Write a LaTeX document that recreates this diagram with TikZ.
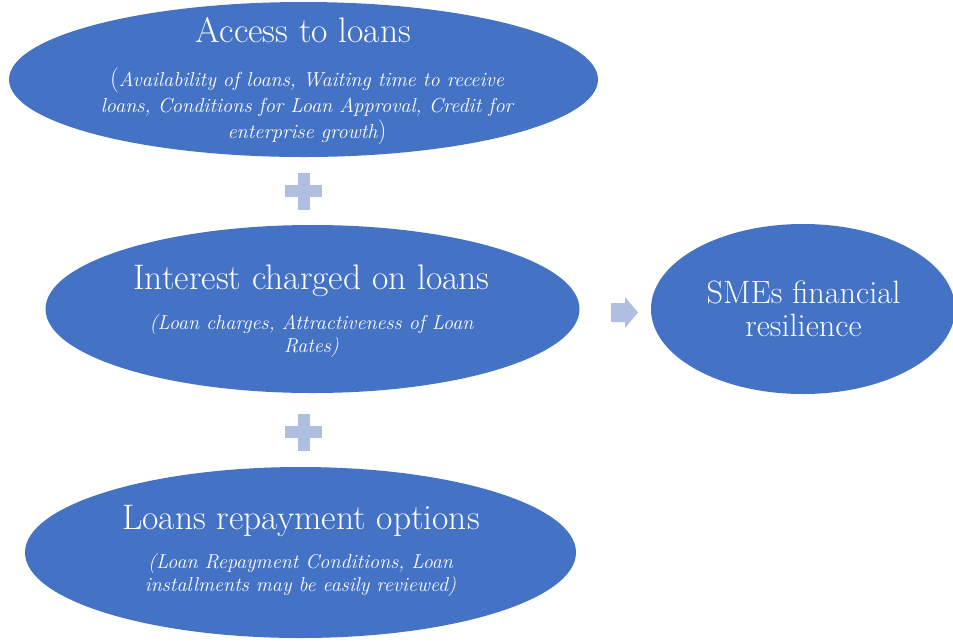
\documentclass[tikz,border=0pt]{standalone}
\usetikzlibrary{shapes.geometric}
\definecolor{ovalblue}{RGB}{68,114,196}
\definecolor{lightsym}{RGB}{176,190,226}
\begin{document}
\begin{tikzpicture}[x=1pt,y=-1pt,
  oval/.style={ellipse, fill=ovalblue, draw=none, inner sep=0pt},
  ttl/.style={text=white, align=center, inner sep=0pt, font=\fontsize{35.5}{33}\selectfont},
  ttlS/.style={text=white, align=center, inner sep=0pt, font=\fontsize{32.3}{33}\selectfont},
  subA/.style={text=white, align=center, inner sep=0pt, font=\itshape\fontsize{20.3}{26}\selectfont},
  subB/.style={text=white, align=center, inner sep=0pt, font=\itshape\fontsize{20.1}{23}\selectfont},
  sym/.style={fill=lightsym, draw=none}]
\useasboundingbox (0,0) rectangle (953,641);
\node[oval, minimum width=589pt, minimum height=155pt] (access) at (303.5,79.5) {};
\node[oval, minimum width=534pt, minimum height=168pt] (interest) at (312.5,309) {};
\node[oval, minimum width=551pt, minimum height=171pt] (repay) at (300.5,552.5) {};
\node[oval, minimum width=304pt, minimum height=170pt] (smes) at (803,309) {};
\node[ttl] (accessT) at (303.5,30) {Access to loans};
\node[subA] (accessS) at (307,106) {{\upshape\fontsize{25}{26}\selectfont(}Availability of loans, Waiting time to receive\\loans, Conditions for Loan Approval, Credit for\\enterprise growth{\upshape\fontsize{25}{26}\selectfont)}};
\node[ttl] (interestT) at (311.5,281) {Interest charged on loans};
\node[subB] (interestS) at (311.5,336) {(Loan charges, Attractiveness of Loan\\Rates)};
\node[ttl] (repayT) at (301,521) {Loans repayment options};
\node[subB] (repayS) at (300.5,575) {(Loan Repayment Conditions, Loan\\installments may be easily reviewed)};
\node[ttlS] (smesT) at (803.5,309) {SMEs financial\\resilience};
% plus signs
\node[inner sep=0pt, minimum size=0pt] (plus1) at (303.5,191) {};
\fill[sym] ([xshift=-18.5pt,yshift=-6pt]plus1.center) rectangle ([xshift=18.5pt,yshift=6pt]plus1.center);
\fill[sym] ([xshift=-6pt,yshift=-18.5pt]plus1.center) rectangle ([xshift=6pt,yshift=18.5pt]plus1.center);
\node[inner sep=0pt, minimum size=0pt] (plus2) at (303.5,432) {};
\fill[sym] ([xshift=-18.5pt,yshift=-6pt]plus2.center) rectangle ([xshift=18.5pt,yshift=6pt]plus2.center);
\fill[sym] ([xshift=-6pt,yshift=-18.5pt]plus2.center) rectangle ([xshift=6pt,yshift=18.5pt]plus2.center);
% arrow
\node[inner sep=0pt, minimum size=0pt] (arr) at (611,312.5) {};
\fill[sym] (arr.center) ++(0,-9.5) -- ++(14,0) -- ++(0,-6) -- ++(13,15.5) -- ++(-13,15.5) -- ++(0,-6) -- ++(-14,0) -- cycle;
\end{tikzpicture}
\end{document}
